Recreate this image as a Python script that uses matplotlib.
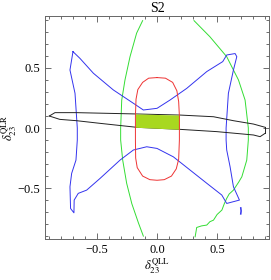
import numpy as np
import matplotlib.pyplot as plt
from matplotlib.ticker import MultipleLocator

plt.rcParams['font.family'] = ['Liberation Serif', 'DejaVu Serif']
plt.rcParams['mathtext.fontset'] = 'stix'

# Curves (x = delta23^QLL, y = delta23^QLR)
green_left_x = [-0.12, -0.17, -0.225, -0.267, -0.294, -0.303, -0.303, -0.286, -0.253, -0.21, -0.155, -0.114]
green_left_y = [0.894, 0.79, 0.594, 0.40, 0.233, 0.0, -0.10, -0.267, -0.46, -0.63, -0.79, -0.90]

green_right_x = [0.308, 0.44, 0.58, 0.678, 0.733, 0.76, 0.76, 0.747, 0.706, 0.68, 0.636,
                 0.60, 0.58, 0.56, 0.54, 0.50, 0.47, 0.44, 0.414, 0.37, 0.33, 0.325, 0.317]
green_right_y = [0.894, 0.76, 0.594, 0.40, 0.233, 0.0, -0.10, -0.267, -0.406, -0.45, -0.517,
                 -0.55, -0.586, -0.63, -0.683, -0.72, -0.767, -0.78, -0.808, -0.815, -0.828, -0.86, -0.906]

red_x = [0.0, 0.07, 0.13, 0.165, 0.18, 0.186, 0.186, 0.18, 0.16, 0.12, 0.06, 0.0, -0.06, -0.12,
         -0.165, -0.178, -0.18, -0.18, -0.175, -0.16, -0.12, -0.07, 0.0]
red_y = [0.42, 0.415, 0.38, 0.31, 0.22, 0.10, -0.10, -0.26, -0.34, -0.40, -0.43, -0.435, -0.43, -0.40,
         -0.33, -0.25, -0.10, 0.10, 0.24, 0.32, 0.38, 0.415, 0.42]

blue_x = [-0.70, -0.725, -0.683, -0.664, -0.664, -0.675, -0.711, -0.725, -0.72, -0.692, -0.69,
          -0.656, -0.586, -0.475, -0.308, -0.197, -0.086, 0.0, 0.136, 0.275, 0.414, 0.539,
          0.58, 0.686, 0.636, 0.608, 0.58, 0.575, 0.575, 0.594, 0.636, 0.664, 0.65, 0.58,
          0.547, 0.414, 0.247, 0.108, 0.0, -0.114, -0.197, -0.364, -0.53, -0.642, -0.70]
blue_y = [0.636, 0.483, 0.289, 0.0, -0.10, -0.267, -0.378, -0.489, -0.67, -0.706, -0.60,
          -0.544, -0.517, -0.42, -0.267, -0.183, -0.156, -0.17, -0.24, -0.35, -0.46, -0.558,
          -0.628, -0.60, -0.489, -0.322, -0.183, -0.10, 0.0, 0.289, 0.483, 0.594, 0.62, 0.608,
          0.553, 0.47, 0.33, 0.233, 0.164, 0.15, 0.206, 0.317, 0.456, 0.58, 0.636]
blob_x = [0.697, 0.70, 0.697]
blob_y = [-0.665, -0.69, -0.715]

band_top_x = [-0.897, -0.85, -0.67, -0.17, 0.19, 0.47, 0.636, 0.803, 0.90]
band_top_y = [0.10, 0.128, 0.128, 0.117, 0.108, 0.094, 0.061, 0.033, 0.006]
band_bot_x = [-0.897, -0.81, -0.67, -0.475, -0.17, 0.19, 0.497, 0.803, 0.858, 0.90]
band_bot_y = [0.10, 0.072, 0.061, 0.039, 0.006, -0.011, -0.03, -0.058, -0.072, -0.044]

fig = plt.figure(figsize=(2.71, 2.80), dpi=100)
ax = fig.add_axes([0.166, 0.146, 0.827, 0.797])

ax.plot(green_left_x, green_left_y, color='#33dd33', lw=0.7)
ax.plot(green_right_x, green_right_y, color='#33dd33', lw=0.7)
ax.plot(blue_x, blue_y, color='#3333ee', lw=0.7)
ax.plot(blob_x, blob_y, color='#3333ee', lw=1.1)
ax.plot(band_top_x, band_top_y, color='#222222', lw=0.7)
ax.plot(band_bot_x, band_bot_y, color='#222222', lw=0.7)
ax.plot([band_bot_x[-1], band_top_x[-1]], [band_bot_y[-1], band_top_y[-1]], color='#222222', lw=0.7)

# allowed region: inside the red contour and inside the black band
xs = np.linspace(min(red_x), max(red_x), 50)
ax.fill_between(xs, np.interp(xs, band_bot_x, band_bot_y), np.interp(xs, band_top_x, band_top_y),
                color='#a8d820', lw=0, zorder=3)
ax.plot(red_x, red_y, color='#ee3333', lw=0.7, zorder=4)

ax.set_xlim(-0.933, 0.933)
ax.set_ylim(-0.925, 0.933)
ax.xaxis.set_major_locator(MultipleLocator(0.5))
ax.yaxis.set_major_locator(MultipleLocator(0.5))
ax.xaxis.set_minor_locator(MultipleLocator(0.1))
ax.yaxis.set_minor_locator(MultipleLocator(0.1))
ax.xaxis.set_major_formatter(lambda v, p: f"{v:.1f}".replace('-', '\u2212'))
ax.yaxis.set_major_formatter(lambda v, p: f"{v:.1f}".replace('-', '\u2212'))
ax.tick_params(which='both', direction='in', top=True, right=True, labelsize=9,
               color='#555555', width=0.6)
ax.tick_params(which='major', length=4)
ax.tick_params(which='minor', length=2)
for s in ax.spines.values():
    s.set_color('#666666')
    s.set_linewidth(0.7)

ax.set_title('S2', fontsize=10, pad=3)
ax.set_xlabel(r'$\delta_{23}^{\rm QLL}$', fontsize=9, labelpad=0)
ax.set_ylabel(r'$\delta_{23}^{\rm QLR}$', fontsize=9, labelpad=-1)

fig.savefig('out.png', dpi=100)
